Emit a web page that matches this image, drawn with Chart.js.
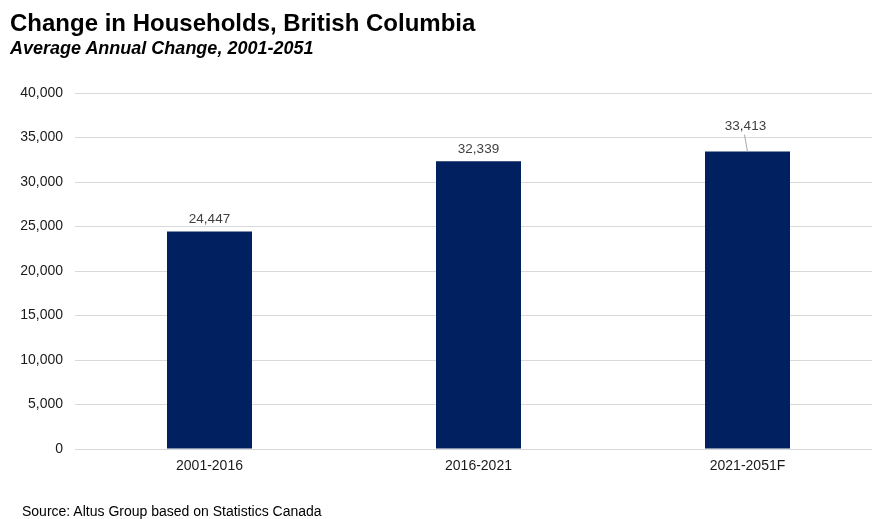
<!DOCTYPE html>
<html>
<head>
<meta charset="utf-8">
<script src="https://cdn.jsdelivr.net/npm/chart.js@4/dist/chart.umd.min.js"></script>
<style>
  html, body { margin: 0; padding: 0; background: #fff; overflow: hidden; }
  body { width: 872px; height: 519px; position: relative; font-family: "Liberation Sans", Arial, sans-serif; }
  #title { position: absolute; left: 10px; top: 9px; font-size: 24px; line-height: 28px; font-weight: bold; color: #000; white-space: nowrap; }
  #subtitle { position: absolute; left: 10px; top: 38px; font-size: 18px; line-height: 21px; font-weight: bold; font-style: italic; color: #000; white-space: nowrap; }
  #source { position: absolute; left: 22px; top: 503px; font-size: 14px; line-height: 16px; color: #000; white-space: nowrap; }
  #wrap { position: absolute; left: 0; top: 0; width: 882px; height: 519px; }
</style>
</head>
<body>
<div id="wrap"><canvas id="chart"></canvas></div>
<div id="title">Change in Households, British Columbia</div>
<div id="subtitle">Average Annual Change, 2001-2051</div>
<div id="source">Source: Altus Group based on Statistics Canada</div>
<script>
const periods = ['2001-2016', '2016-2021', '2021-2051F'];
const households = [24447, 32339, 33413];
const yTicks = [0, 5000, 10000, 15000, 20000, 25000, 30000, 35000, 40000];

const fmt = v => v.toLocaleString('en-US');
const FONT = '"Liberation Sans", Arial, sans-serif';

// value labels above bars; the last one is lifted with a leader line
const barLabels = {
    id: 'barLabels',
    afterDatasetsDraw(chart, args, opts) {
        const ctx = chart.ctx;
        const meta = chart.getDatasetMeta(0);
        ctx.save();
        ctx.font = '13.5px ' + FONT;
        ctx.fillStyle = '#404040';
        ctx.textAlign = 'center';
        ctx.textBaseline = 'bottom';
        meta.data.forEach((bar, i) => {
            const lift = opts.lift[i] || 0;
            const tx = bar.x + (lift ? -2 : 0);
            const ty = bar.y - 5 - lift;
            ctx.fillText(fmt(households[i]), tx, ty);
            if (lift) {
                ctx.strokeStyle = '#a6a6a6';
                ctx.lineWidth = 1;
                ctx.beginPath();
                ctx.moveTo(tx - 1, ty + 2);
                ctx.lineTo(bar.x, bar.y);
                ctx.stroke();
            }
        });
        ctx.restore();
    }
};

new Chart(document.getElementById('chart'), {
    type: 'bar',
    data: {
        labels: periods,
        datasets: [{
            data: households,
            backgroundColor: '#002060',
            barPercentage: 1,
            categoryPercentage: 0.316
        }]
    },
    options: {
        responsive: true,
        maintainAspectRatio: false,
        animation: false,
        layout: { padding: { top: 93, right: 0, bottom: 0, left: 0 } },
        plugins: {
            legend: { display: false },
            tooltip: { enabled: false },
            barLabels: { lift: [0, 0, 14] }
        },
        scales: {
            x: {
                grid: { display: false, drawTicks: false },
                border: { color: '#d9d9d9', width: 1 },
                ticks: {
                    color: '#1a1a1a',
                    font: { family: FONT, size: 14 },
                    padding: 9
                },
                afterFit(scale) { scale.height = 70; }
            },
            y: {
                min: 0,
                max: 40000,
                afterBuildTicks(scale) { scale.ticks = yTicks.map(v => ({ value: v })); },
                grid: { color: '#d9d9d9', drawTicks: false },
                border: { display: false },
                ticks: {
                    color: '#1a1a1a',
                    font: { family: FONT, size: 14 },
                    padding: 12,
                    callback: v => fmt(v)
                },
                afterFit(scale) { scale.width = 75; }
            }
        }
    },
    plugins: [barLabels]
});
</script>
</body>
</html>
